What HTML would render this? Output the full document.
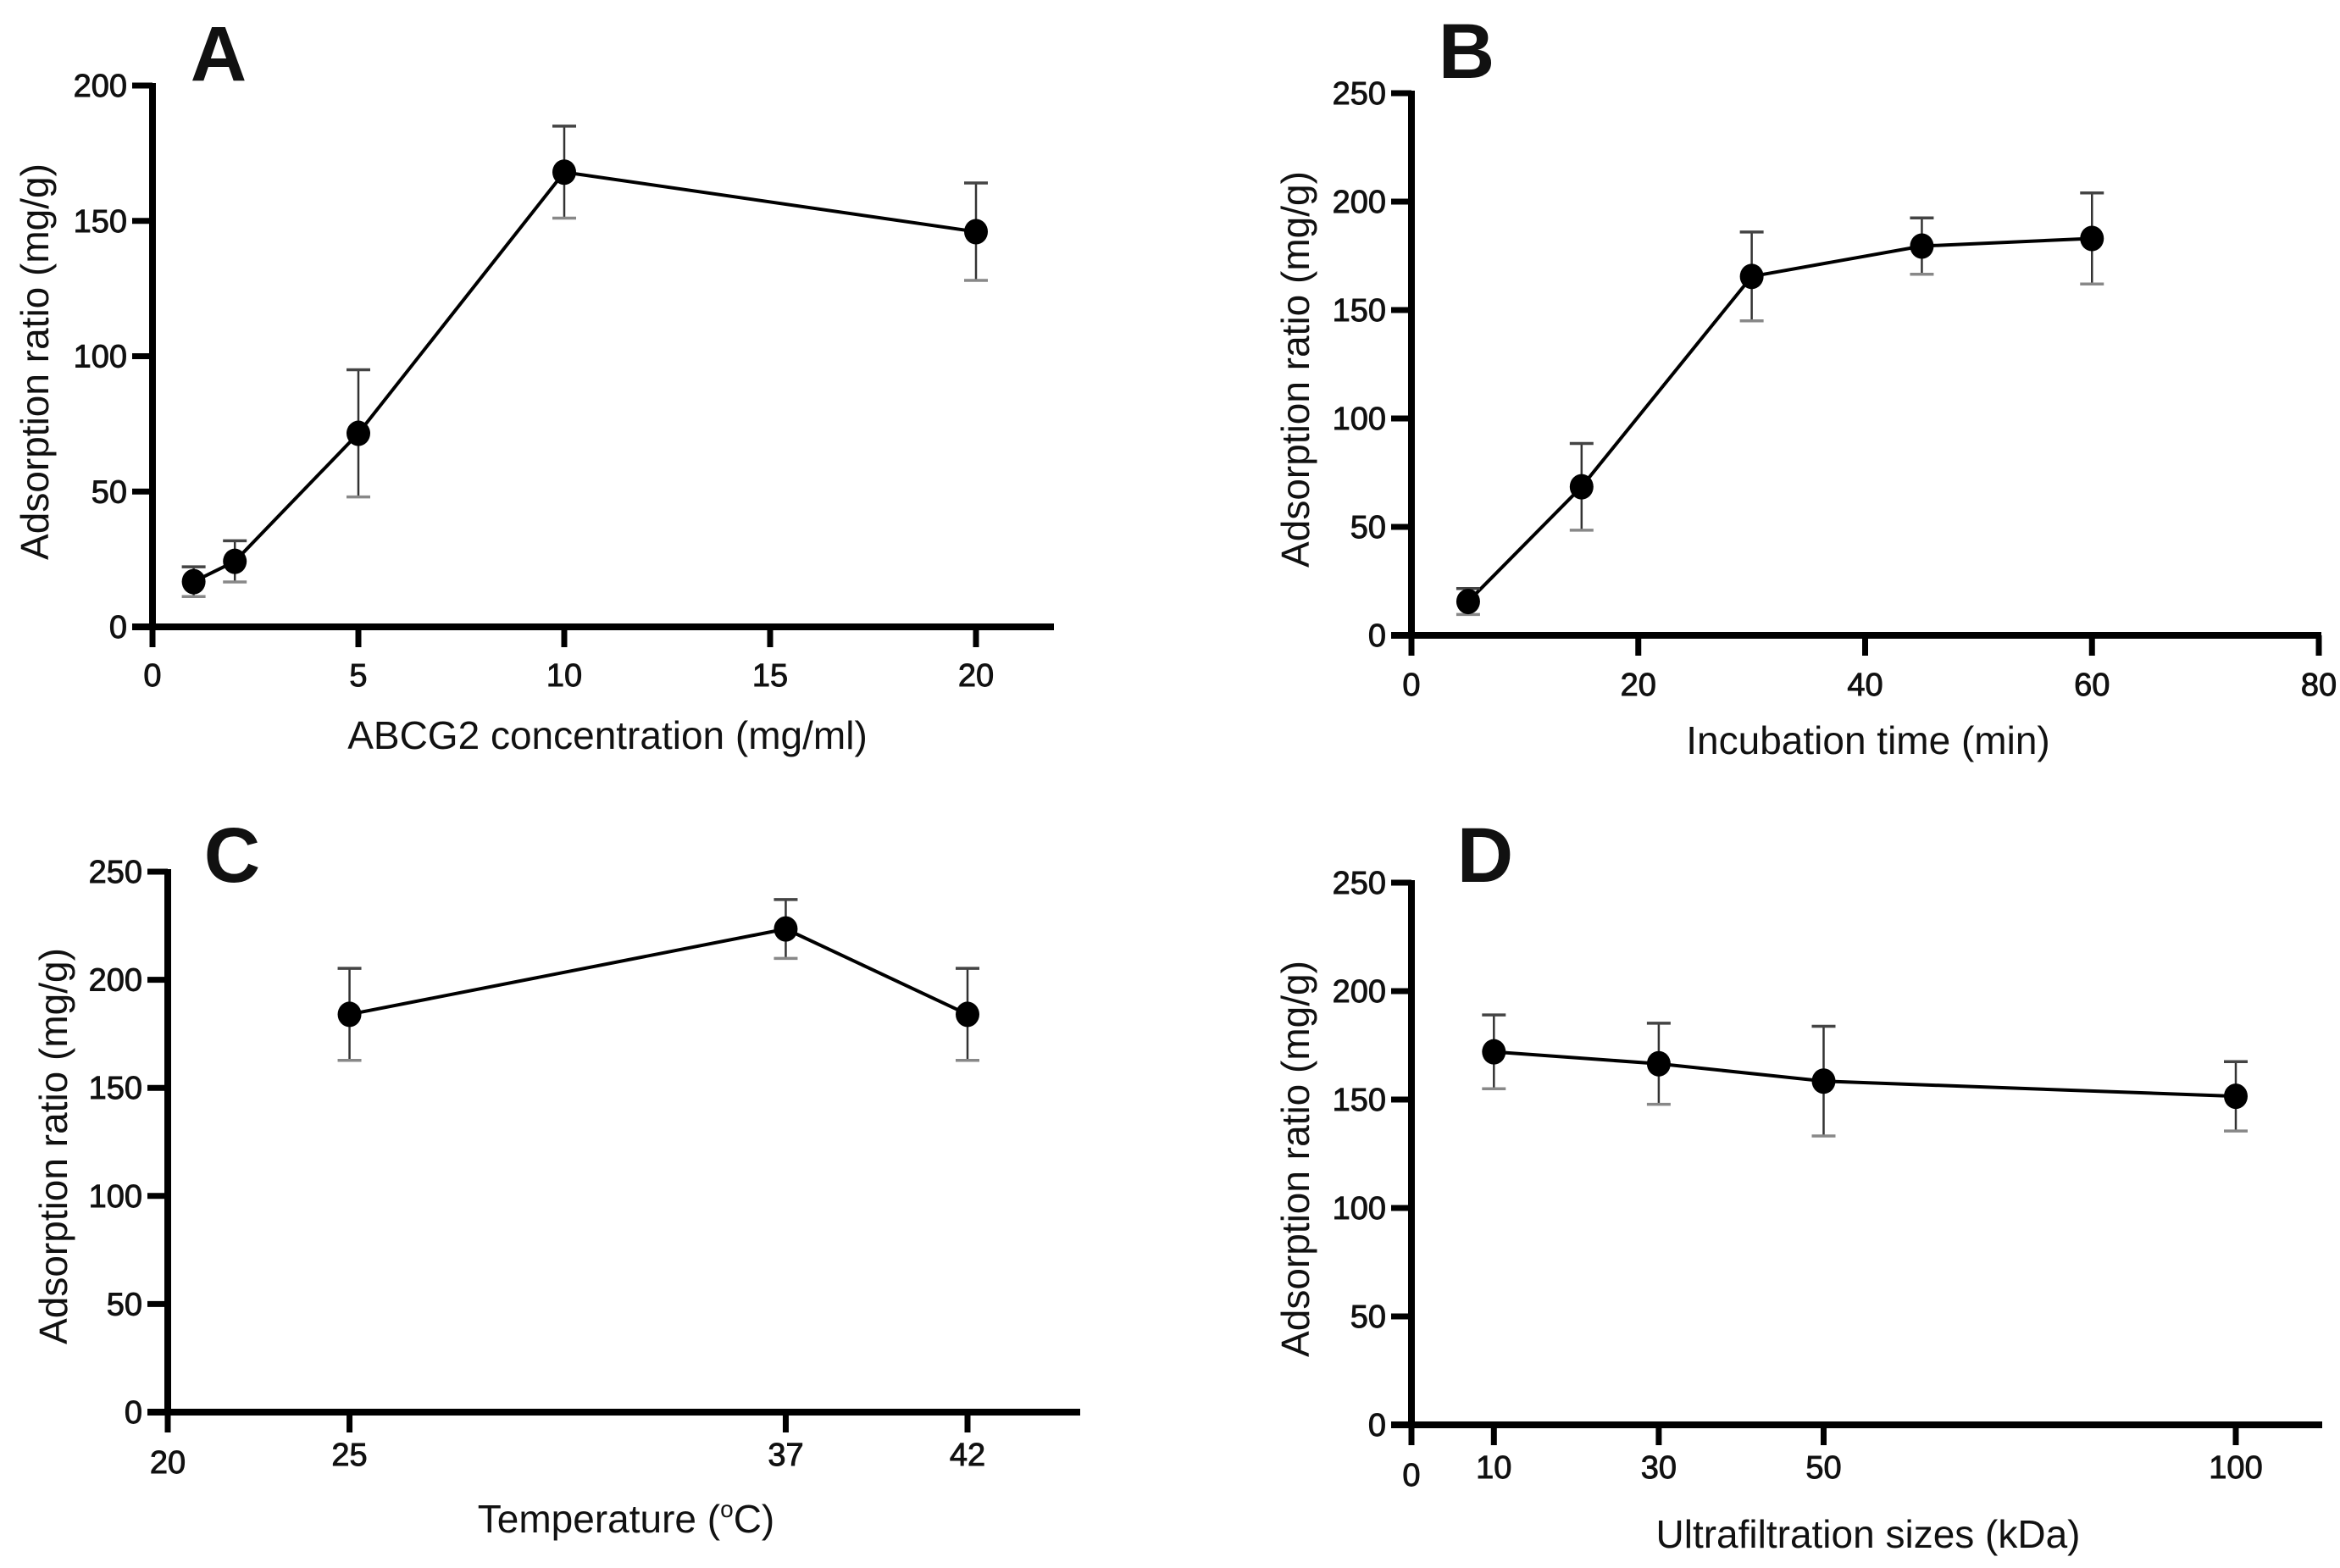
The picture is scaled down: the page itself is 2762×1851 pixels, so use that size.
<!DOCTYPE html>
<html><head><meta charset="utf-8">
<style>
html,body{margin:0;padding:0;background:#fff;}
svg{display:block;}
text{font-family:"Liberation Sans",Arial,sans-serif;fill:#111;}
.tick{font-size:38px;stroke:#111;stroke-width:0.9px;}
.title{font-size:46px;}
.panel{font-size:92px;font-weight:bold;}
</style></head>
<body>
<svg id="fig" width="2762" height="1851" viewBox="0 0 2762 1851" xmlns="http://www.w3.org/2000/svg"></svg>
<script>
// Panel A data
const aX = [1, 2, 5, 10, 20];
const aY = [16.7, 24.2, 71.5, 168, 146];
const aErr = [5.5, 7.6, 23.5, 17, 18];
const aXTicks = [0, 5, 10, 15, 20];
const aYTicks = [0, 50, 100, 150, 200];
// Panel B data
const bX = [5, 15, 30, 45, 60];
const bY = [15.6, 68.5, 165.5, 179.5, 183];
const bErr = [6, 20, 20.5, 13, 21];
const bXTicks = [0, 20, 40, 60, 80];
const bYTicks = [0, 50, 100, 150, 200, 250];
// Panel C data
const cX = [25, 37, 42];
const cY = [184, 223.5, 184];
const cErr = [21.3, 13.6, 21.3];
const cXTicks = [20, 25, 37, 42];
const cYTicks = [0, 50, 100, 150, 200, 250];
// Panel D data
const dX = [10, 30, 50, 100];
const dY = [172, 166.5, 158.5, 151.5];
const dErr = [17, 18.7, 25.3, 16];
const dXTicks = [0, 10, 30, 50, 100];
const dYTicks = [0, 50, 100, 150, 200, 250];

const NS = "http://www.w3.org/2000/svg";
const svg = document.getElementById('fig');
function mk(tag, attrs, parent) {
  const e = document.createElementNS(NS, tag);
  for (const k in attrs) e.setAttribute(k, attrs[k]);
  (parent || svg).appendChild(e);
  return e;
}

function panel(cfg) {
  const g = mk('g', {});
  
  
  const sx = v => cfg.x0 + (v - cfg.xmin) * (cfg.x1 - cfg.x0) / (cfg.xmax - cfg.xmin);
  const sy = v => cfg.y0 - (v - cfg.ymin) * (cfg.y0 - cfg.y1) / (cfg.ymax - cfg.ymin);
  const ya = mk('line', {x1: cfg.x0, y1: cfg.y1 - 3, x2: cfg.x0, y2: cfg.y0 + 4, stroke: '#000', 'stroke-width': 8}, g);
  
  
  const xa = mk('line', {x1: cfg.x0 - 24, y1: cfg.y0, x2: cfg.xend, y2: cfg.y0, stroke: '#000', 'stroke-width': 8}, g);
  
  
  cfg.yTicks.forEach(t => {
    const y = sy(t);
    mk('line', {x1: cfg.x0 - 24, y1: y, x2: cfg.x0, y2: y, stroke: '#000', 'stroke-width': 7}, g);
    const tx = mk('text', {x: cfg.x0 - 30, y: y + 13, 'text-anchor': 'end', class: 'tick'}, g);
    tx.textContent = t;
    
    
  });
  cfg.xTicks.forEach((t, i) => {
    const x = sx(t);
    mk('line', {x1: x, y1: cfg.y0, x2: x, y2: cfg.y0 + 24, stroke: '#000', 'stroke-width': 7}, g);
    const dy = (cfg.lowFirst && i === 0) ? 9 : 0;
    const tx = mk('text', {x: x, y: cfg.xTickY + 14 + dy, 'text-anchor': 'middle', class: 'tick'}, g);
    tx.textContent = t;
    
    
  });
  const pts = cfg.xs.map((v, i) => sx(v) + ',' + sy(cfg.ys[i])).join(' ');
  const pl = mk('polyline', {points: pts, fill: 'none', stroke: '#000', 'stroke-width': 4}, g);
  
  
  cfg.xs.forEach((v, i) => {
    const x = sx(v), yt = sy(cfg.ys[i] + cfg.err[i]), yb = sy(cfg.ys[i] - cfg.err[i]);
    const eg = mk('g', {}, g);
    
    
    mk('line', {x1: x, y1: yt, x2: x, y2: yb, stroke: '#333', 'stroke-width': 2.5}, eg);
    mk('line', {x1: x - 14, y1: yt, x2: x + 14, y2: yt, stroke: '#444', 'stroke-width': 3.5}, eg);
    mk('line', {x1: x - 14, y1: yb, x2: x + 14, y2: yb, stroke: '#888', 'stroke-width': 3.5}, eg);
    const c = mk('ellipse', {cx: x, cy: sy(cfg.ys[i]), rx: 14, ry: 15, fill: '#000'}, g);
    
    
  });
  const xt = mk('text', {x: cfg.xtX, y: cfg.xtY + 16, 'text-anchor': 'middle', class: 'title'}, g);
  if (cfg.id === 'c') {
    xt.appendChild(document.createTextNode('Temperature ('));
    const sup = mk('tspan', {'font-size': '28', dy: '-18'}, xt);
    sup.textContent = 'o';
    const rest = mk('tspan', {dy: '18'}, xt);
    rest.textContent = 'C)';
  } else {
    xt.textContent = cfg.xtitle;
  }
  
  
  const yt = mk('text', {x: 0, y: 0, 'text-anchor': 'middle', class: 'title', 'font-size': '48', transform: 'translate(' + (cfg.ytX + 17) + ',' + cfg.ytY + ') rotate(-90)'}, g);
  yt.textContent = 'Adsorption ratio (mg/g)';
  
  
  const pl2 = mk('text', {x: cfg.lblX, y: cfg.lblY, 'text-anchor': 'middle', class: 'panel'}, g);
  pl2.textContent = cfg.id.toUpperCase();
  
  
}

panel({id: 'a', x0: 180, x1: 1152, xmin: 0, xmax: 20, xend: 1244, y0: 740, y1: 101, ymin: 0, ymax: 200,
  xs: aX, ys: aY, err: aErr, xTicks: aXTicks, yTicks: aYTicks, xTickY: 796,
  xtitle: 'ABCG2 concentration (mg/ml)', xtX: 717, xtY: 868, ytX: 40, ytY: 427, lblX: 258, lblY: 95});
panel({id: 'b', x0: 1666, x1: 2737, xmin: 0, xmax: 80, xend: 2740, y0: 750, y1: 110, ymin: 0, ymax: 250,
  xs: bX, ys: bY, err: bErr, xTicks: bXTicks, yTicks: bYTicks, xTickY: 807,
  xtitle: 'Incubation time (min)', xtX: 2205, xtY: 874, ytX: 1528, ytY: 436, lblX: 1731, lblY: 92});
panel({id: 'c', x0: 198, x1: 1142, xmin: 20, xmax: 42, xend: 1275, y0: 1667, y1: 1029, ymin: 0, ymax: 250,
  xs: cX, ys: cY, err: cErr, xTicks: cXTicks, yTicks: cYTicks, xTickY: 1716, lowFirst: true,
  xtitle: 'Temperature (oC)', xtX: 739, xtY: 1793, ytX: 62, ytY: 1353, lblX: 274, lblY: 1041});
panel({id: 'd', x0: 1666, x1: 2639, xmin: 0, xmax: 100, xend: 2741, y0: 1682, y1: 1042, ymin: 0, ymax: 250,
  xs: dX, ys: dY, err: dErr, xTicks: dXTicks, yTicks: dYTicks, xTickY: 1731, lowFirst: true,
  xtitle: 'Ultrafiltration sizes (kDa)', xtX: 2205, xtY: 1811, ytX: 1528, ytY: 1368, lblX: 1753, lblY: 1041});
</script>
</body></html>
